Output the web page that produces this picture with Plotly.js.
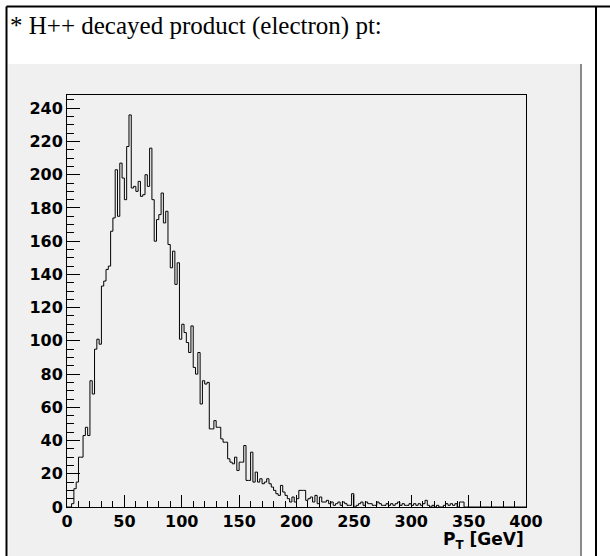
<!DOCTYPE html>
<html>
<head>
<meta charset="utf-8">
<script src="https://cdn.plot.ly/plotly-3.0.1.min.js"></script>
<style>
html,body{margin:0;padding:0;background:#fff;}
#chart{width:610px;height:556px;}
</style>
</head>
<body>
<div id="chart"></div>
<script>
// ---- data ----
const binLow = 0;      // GeV
const binWidth = 2;    // GeV
const counts = [
  0,0,2,11,15,30,30,43,48,43,
  76,68,95,101,98,133,136,143,145,166,
  174,203,175,207,198,185,217,236,192,193,
  190,196,187,188,200,193,216,185,160,173,
  176,189,171,178,158,144,154,134,147,101,
  110,105,99,93,109,84,80,93,62,76,
  74,75,47,47,52,48,48,41,39,39,
  29,27,26,30,22,27,27,37,16,16,
  33,15,21,15,17,14,15,17,14,12,
  10,8,7,13,9,7,5,3,6,3,
  5,10,10,10,4,5,6,3,7,2,
  6,3,3,4,2,3,1,2,3,1,
  3,2,1,1,8,0,1,2,3,1,
  3,2,2,1,1,3,2,1,1,2,
  1,2,1,2,3,1,2,1,1,2,
  1,2,1,2,1,2,4,1,0,1,
  0,1,0,0,1,2,1,2,1,2,
  0,3,3,0,0,0,0,0,0,0,
  0,0,0,0,0,0,0,0,0,0,
  0,0,0,0,0,0,0,0,0,0
];
const heading = "* H++ decayed product (electron) pt:";
const xTitle = "P<sub>T</sub> [GeV]";
const xRange = [0, 400];
const yRange = [0, 248];

// ---- step line from bin edges ----
const edges = [], ys = [];
for (let i = 0; i < counts.length; i++) { edges.push(binLow + i * binWidth); ys.push(counts[i]); }
edges.push(binLow + counts.length * binWidth); ys.push(counts[counts.length - 1]);

// ---- layout helpers (pixel -> paper) ----
const L = 67, R = 526, T = 95, B = 507;
const W = 610, H = 556;
const px = v => (v - L) / (R - L);
const py = v => (B - v) / (B - T);

const grey = '#f0f0f0';
const tickFont = {family: 'DejaVu Sans', size: 16, color: '#000', weight: 'bold'};

const layout = {
  width: W, height: H,
  margin: {l: L, r: W - R, t: T, b: H - B, pad: 0},
  paper_bgcolor: '#ffffff',
  plot_bgcolor: 'rgba(0,0,0,0)',
  showlegend: false,
  xaxis: {
    range: xRange, showgrid: false, zeroline: false,
    showline: true, mirror: true, linecolor: '#000', linewidth: 1,
    ticks: 'inside', ticklen: 12, tickcolor: '#000', tickwidth: 1,
    tick0: 0, dtick: 50, tickfont: tickFont,
    minor: {ticks: 'inside', ticklen: 6, dtick: 10, tickcolor: '#000', showgrid: false}
  },
  yaxis: {
    range: yRange, showgrid: false, zeroline: false,
    showline: true, mirror: true, linecolor: '#000', linewidth: 1,
    ticks: 'inside', ticklen: 13, tickcolor: '#000', tickwidth: 1,
    tick0: 0, dtick: 20, tickfont: tickFont,
    minor: {ticks: 'inside', ticklen: 7, dtick: 5, tickcolor: '#000', showgrid: false}
  },
  shapes: [
    // ROOT canvas (grey)
    {type: 'rect', xref: 'paper', yref: 'paper', layer: 'below',
     x0: px(8.5), x1: px(582), y0: py(560), y1: py(64),
     fillcolor: grey, line: {width: 0}},
    // canvas right bevel
    {type: 'line', xref: 'paper', yref: 'paper',
     x0: px(581), x1: px(581), y0: py(560), y1: py(64),
     line: {color: '#8a8a8a', width: 2}},
    // table cell border
    {type: 'line', xref: 'paper', yref: 'paper',
     x0: px(6.5), x1: px(6.5), y0: py(560), y1: py(6.5),
     line: {color: '#000', width: 2}},
    {type: 'line', xref: 'paper', yref: 'paper',
     x0: px(6.5), x1: px(610), y0: py(6.5), y1: py(6.5),
     line: {color: '#000', width: 2}},
    {type: 'line', xref: 'paper', yref: 'paper',
     x0: px(596), x1: px(596), y0: py(560), y1: py(6.5),
     line: {color: '#000', width: 2}}
  ],
  annotations: [
    {text: heading, xref: 'paper', yref: 'paper', x: px(8), y: py(26),
     xanchor: 'left', yanchor: 'middle', showarrow: false,
     font: {family: 'Liberation Serif', size: 25, color: '#000'}},
    {text: xTitle, xref: 'paper', yref: 'paper', x: 1.0, y: py(527),
     xanchor: 'right', yanchor: 'top', showarrow: false,
     font: {family: 'DejaVu Sans', size: 17, color: '#000', weight: 'bold'}}
  ]
};

const trace = {
  type: 'scatter', mode: 'lines', x: edges, y: ys,
  line: {shape: 'hv', color: '#000', width: 1},
  hoverinfo: 'skip'
};

Plotly.newPlot('chart', [trace], layout, {staticPlot: true, displayModeBar: false});
</script>
</body>
</html>
